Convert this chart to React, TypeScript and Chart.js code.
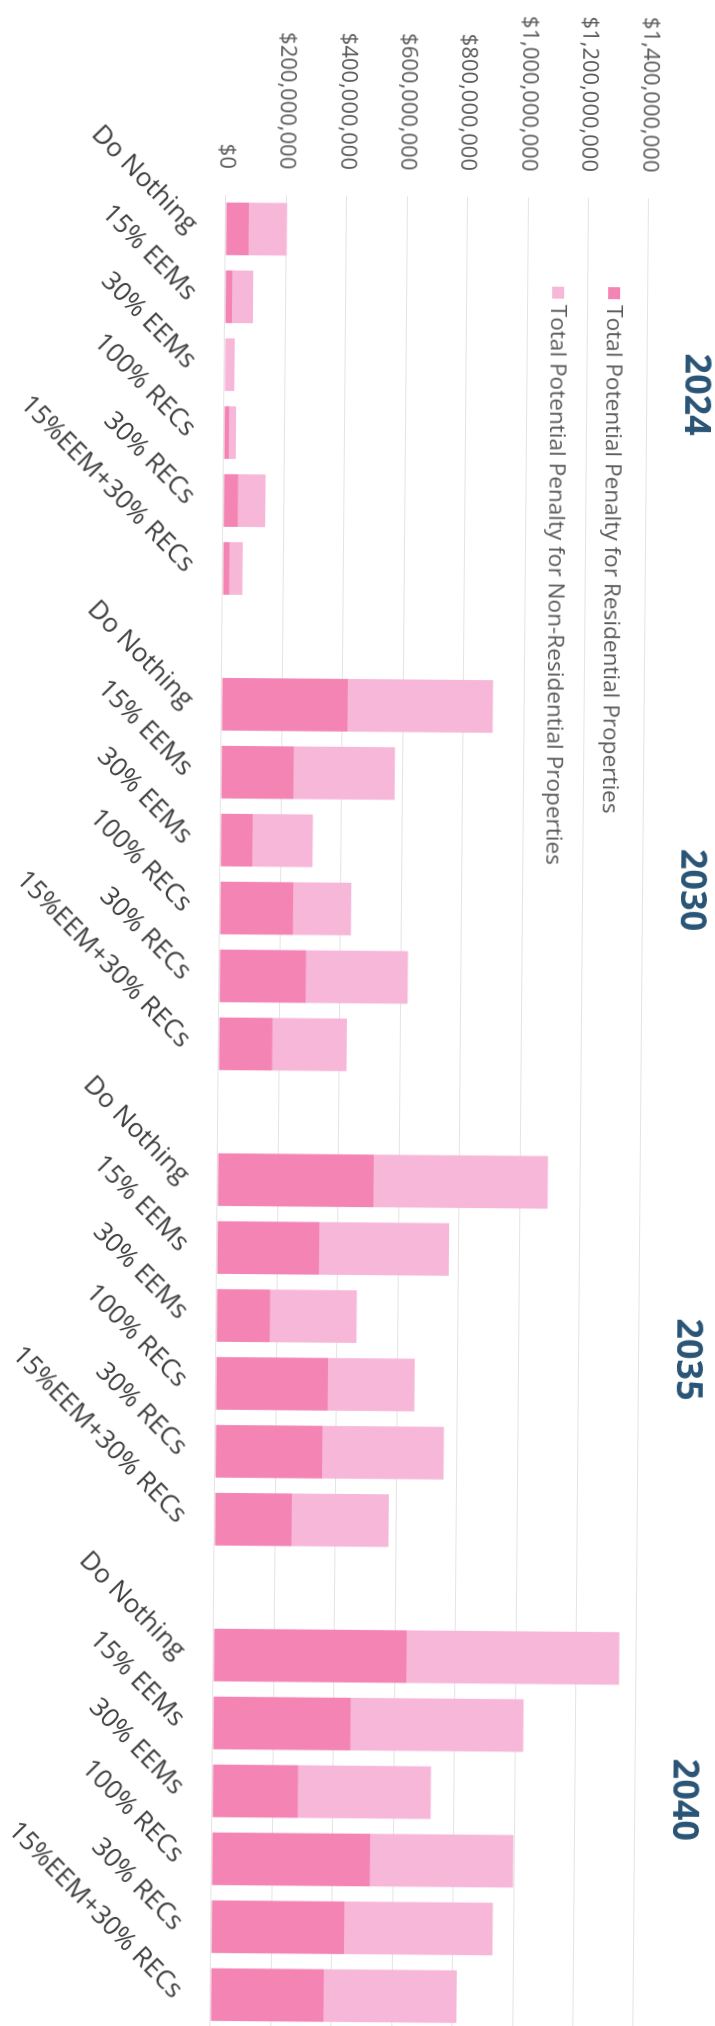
import React, { useEffect, useRef } from "react";
import { Chart, registerables } from "chart.js";

Chart.register(...registerables);

// ---------- data (values in $ millions) ----------
const scenarios = [
  "Do Nothing",
  "15% EEMs",
  "30% EEMs",
  "100% RECs",
  "30% RECs",
  "15%EEM+30% RECs",
];
const years = ["2024", "2030", "2035", "2040"];

const residential2024 = [77, 24, 0, 17, 49, 22];
const residential2030 = [418, 241, 106, 243, 287, 178];
const residential2035 = [517, 339, 178, 371, 354, 255];
const residential2040 = [639, 456, 284, 525, 441, 375];

const nonResidential2024 = [126, 69, 33, 23, 90, 43];
const nonResidential2030 = [480, 334, 199, 191, 337, 246];
const nonResidential2035 = [576, 429, 286, 287, 402, 321];
const nonResidential2040 = [704, 572, 439, 473, 491, 439];

const valueTicks = [0, 200, 400, 600, 800, 1000, 1200, 1400];

const seriesNames = [
  "Total Potential Penalty for Residential Properties",
  "Total Potential Penalty for Non-Residential Properties",
];

// ---------- build category table (blank slot between year groups) ----------
const residentialByYear = [residential2024, residential2030, residential2035, residential2040];
const nonResidentialByYear = [nonResidential2024, nonResidential2030, nonResidential2035, nonResidential2040];

const labels: string[] = [];
const residentialData: (number | null)[] = [];
const nonResidentialData: (number | null)[] = [];
years.forEach((_, yi) => {
  if (yi > 0) {
    labels.push("");
    residentialData.push(null);
    nonResidentialData.push(null);
  }
  scenarios.forEach((s, si) => {
    labels.push(s);
    residentialData.push(residentialByYear[yi][si]);
    nonResidentialData.push(nonResidentialByYear[yi][si]);
  });
});

// ---------- styles ----------
const FONT = '"Open Sans", "DejaVu Sans", sans-serif';
const RES_COLOR = "#f384b4";
const NONRES_COLOR = "#f7b7d9";
const GRID_COLOR = "#e4e4e4";
const TEXT_COLOR = "#595959";
const YEAR_COLOR = "#2b5576";
const YEAR_NUDGE = [-8, 12, 6, -29];

const CANVAS_W = 2040;
const CANVAS_H = 715;

const formatDollars = (v: number) =>
  "$" + Math.round(v * 1e6).toLocaleString("en-US");

const yearLabelPlugin = {
  id: "yearLabels",
  afterDraw(chart: any) {
    const { ctx, chartArea, scales } = chart;
    const xs = scales.x;
    ctx.save();
    ctx.font = `bold 36px ${FONT}`;
    ctx.fillStyle = YEAR_COLOR;
    ctx.textAlign = "center";
    ctx.textBaseline = "middle";
    years.forEach((yr, i) => {
      const first = i * (scenarios.length + 1);
      const last = first + scenarios.length - 1;
      const cx =
        (xs.getPixelForTick(first) + xs.getPixelForTick(last)) / 2 + YEAR_NUDGE[i];
      ctx.fillText(yr, cx, chartArea.top - 48);
    });
    ctx.restore();
  },
};

const innerLegendPlugin = {
  id: "innerLegend",
  afterDraw(chart: any) {
    const { ctx, chartArea } = chart;
    ctx.save();
    ctx.font = `22.6px ${FONT}`;
    ctx.textAlign = "left";
    ctx.textBaseline = "middle";
    chart.data.datasets.forEach((ds: any, i: number) => {
      const cy = chartArea.top + 34 + i * 56;
      const sx = chartArea.left + 89;
      ctx.fillStyle = ds.backgroundColor;
      ctx.fillRect(sx, cy - 6, 12, 12);
      ctx.fillStyle = TEXT_COLOR;
      ctx.fillText(ds.label, sx + 18, cy + 1);
    });
    ctx.restore();
  },
};

export default function App() {
  const canvasRef = useRef<HTMLCanvasElement>(null);

  useEffect(() => {
    if (!canvasRef.current) return;
    const chart = new Chart(canvasRef.current, {
      type: "bar",
      data: {
        labels,
        datasets: [
          {
            label: seriesNames[0],
            data: residentialData,
            backgroundColor: RES_COLOR,
            borderWidth: 0,
            categoryPercentage: 1,
            barPercentage: 0.775,
          },
          {
            label: seriesNames[1],
            data: nonResidentialData,
            backgroundColor: NONRES_COLOR,
            borderWidth: 0,
            categoryPercentage: 1,
            barPercentage: 0.775,
          },
        ],
      },
      options: {
        animation: false,
        responsive: false,
        devicePixelRatio: 1,
        layout: { padding: { top: 73, right: 8, bottom: 0, left: 0 } },
        plugins: {
          legend: { display: false },
          tooltip: { enabled: false },
        },
        scales: {
          x: {
            stacked: true,
            grid: { display: false, drawTicks: false },
            border: { display: false },
            ticks: {
              autoSkip: false,
              minRotation: 45,
              maxRotation: 45,
              padding: 22,
              color: "#404040",
              font: { family: FONT, size: 26 },
            },
            afterFit: (scale: any) => {
              scale.height = 219;
            },
          },
          y: {
            stacked: true,
            min: valueTicks[0],
            max: valueTicks[valueTicks.length - 1],
            afterBuildTicks: (scale: any) => {
              scale.ticks = valueTicks.map((v) => ({ value: v }));
            },
            grid: { color: GRID_COLOR, lineWidth: 1, drawTicks: false, tickLength: 0 },
            border: { display: false },
            ticks: {
              padding: 26,
              color: TEXT_COLOR,
              font: { family: FONT, size: 22 },
              callback: (v: any) => formatDollars(Number(v)),
            },
            afterFit: (scale: any) => {
              scale.width = 196;
            },
          },
        },
      },
      plugins: [yearLabelPlugin, innerLegendPlugin],
    });
    return () => chart.destroy();
  }, []);

  return (
    <div
      style={{
        position: "fixed",
        left: 0,
        top: 0,
        width: 715,
        height: 2026,
        overflow: "hidden",
        background: "#ffffff",
      }}
    >
      <div
        style={{
          position: "absolute",
          left: 0,
          top: 0,
          width: CANVAS_W,
          height: CANVAS_H,
          transformOrigin: "0 0",
          transform:
            "translate(357.5px, 1013px) rotate(90.49deg) translate(-1013px, -357.5px)",
        }}
      >
        <canvas
          ref={canvasRef}
          width={CANVAS_W}
          height={CANVAS_H}
          style={{ width: CANVAS_W, height: CANVAS_H, display: "block" }}
        />
      </div>
    </div>
  );
}
